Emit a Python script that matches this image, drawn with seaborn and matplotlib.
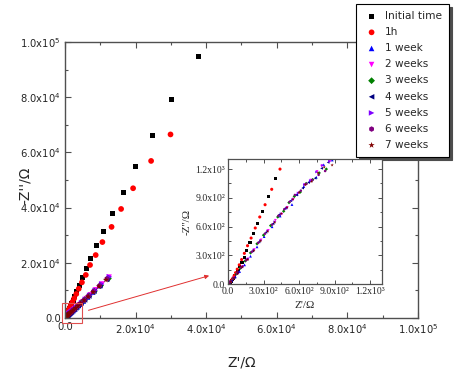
import numpy as np
import pandas as pd
import matplotlib
matplotlib.use("Agg")
import matplotlib.pyplot as plt
import matplotlib.patches as patches
from matplotlib.ticker import MultipleLocator
import seaborn as sns

# series names as in the legend
labels = ["Initial time", "1h", "1 week", "2 weeks", "3 weeks",
          "4 weeks", "5 weeks", "6 weeks", "7 weeks"]

# Z' / -Z'' values (ohm)
x_init = [37700, 30300, 24700, 20100, 16500, 13500, 11000, 9000, 7300, 6100,
          5000, 4100, 3400, 2800, 2300, 1900, 1550, 1250, 1000, 820,
          665, 540, 403, 341, 290, 248, 214, 186, 158, 138,
          118, 100, 84, 70, 58, 47, 37, 28, 20, 13, 7]
y_init = [94600, 79000, 66000, 55000, 45600, 38000, 31500, 26100, 21700, 17800,
          14500, 11800, 9600, 7800, 6300, 5100, 4100, 3300, 2650, 2150,
          1750, 1420, 1102, 916, 758, 628, 523, 435, 347, 277,
          225, 180, 142, 110, 84, 62, 45, 31, 20, 12, 6]

x_1h = [29900, 24400, 19300, 15900, 13200, 10600, 8700, 7100, 5900, 4800,
        3900, 3200, 2600, 2100, 1700, 1400, 1120, 900, 720, 580,
        439, 369, 313, 268, 230, 195, 165, 138, 115, 95,
        78, 64, 52, 42, 33, 25, 18, 12, 6]
y_1h = [66500, 56900, 47000, 39500, 33000, 27500, 22800, 19200, 15600, 12900,
        10600, 8700, 7100, 5800, 4700, 3850, 3100, 2500, 2000, 1600,
        1200, 989, 828, 700, 585, 480, 400, 320, 255, 200,
        155, 118, 88, 64, 45, 30, 18, 10, 4]

x_1w = [12000, 9700, 7900, 6400, 5200, 4250, 3480, 2850, 2330, 1910,
        1570, 1290, 1060, 880, 808, 745, 690, 640, 585, 540,
        492, 440, 372, 305, 245, 190, 140, 98, 62, 33, 12]
y_1w = [14600, 11700, 9400, 7600, 6150, 5000, 4080, 3330, 2750, 2290,
        1920, 1630, 1420, 1295, 1245, 1115, 1078, 1018, 938, 830,
        796, 710, 598, 495, 388, 290, 200, 130, 75, 36, 12]

x_2w = [12500, 10500, 8700, 7200, 6000, 4950, 4100, 3380, 2790, 2300,
        1890, 1560, 1280, 1060, 860, 790, 752, 700, 650, 600,
        552, 500, 455, 400, 340, 280, 222, 170, 125, 86, 52, 26, 8]
y_2w = [14800, 12300, 10200, 8400, 7000, 5780, 4780, 3960, 3300, 2760,
        2330, 1990, 1720, 1490, 1280, 1232, 1175, 1085, 1040, 955,
        886, 800, 730, 665, 560, 460, 360, 262, 182, 115, 62, 26, 6]

x_3w = [12300, 10100, 8300, 6800, 5600, 4600, 3800, 3130, 2590, 2130,
        1760, 1450, 1190, 980, 830, 770, 715, 660, 610, 560,
        515, 470, 420, 360, 300, 245, 190, 145, 105, 72, 44, 22, 6]
y_3w = [14300, 11800, 9700, 8000, 6600, 5450, 4500, 3740, 3110, 2600,
        2190, 1860, 1590, 1380, 1200, 1160, 1090, 1050, 960, 915,
        850, 760, 700, 610, 510, 420, 325, 240, 165, 105, 58, 24, 5]

x_4w = [11800, 9900, 8200, 6750, 5550, 4560, 3750, 3080, 2530, 2080,
        1710, 1410, 1160, 960, 845, 790, 735, 680, 630, 578,
        530, 480, 432, 380, 320, 262, 208, 160, 118, 82, 52, 28, 10]
y_4w = [14000, 11700, 9700, 7950, 6550, 5400, 4450, 3680, 3050, 2540,
        2130, 1810, 1550, 1350, 1270, 1208, 1105, 1060, 1002, 930,
        870, 790, 724, 630, 540, 440, 345, 258, 182, 118, 66, 30, 8]

x_5w = [12600, 10400, 8550, 7000, 5750, 4720, 3880, 3190, 2620, 2160,
        1780, 1470, 1210, 1000, 856, 800, 748, 695, 645, 592,
        545, 498, 448, 395, 335, 275, 218, 166, 122, 84, 50, 25, 7]
y_5w = [14900, 12300, 10000, 8200, 6750, 5550, 4580, 3790, 3150, 2630,
        2210, 1880, 1610, 1400, 1282, 1240, 1170, 1080, 1038, 950,
        880, 795, 735, 650, 555, 455, 355, 260, 180, 112, 60, 25, 6]

x_6w = [11900, 9800, 8050, 6600, 5420, 4450, 3660, 3010, 2480, 2040,
        1680, 1380, 1140, 940, 820, 765, 712, 662, 615, 565,
        520, 475, 425, 372, 312, 255, 200, 152, 110, 76, 46, 23, 7]
y_6w = [14200, 11700, 9600, 7880, 6480, 5330, 4390, 3630, 3000, 2500,
        2100, 1790, 1530, 1330, 1180, 1140, 1085, 1045, 975, 930,
        858, 780, 712, 620, 525, 430, 335, 248, 172, 110, 60, 25, 6]

x_7w = [11600, 9600, 7950, 6550, 5400, 4450, 3670, 3030, 2500, 2060,
        1700, 1400, 1150, 950, 879, 812, 760, 705, 652, 600,
        548, 498, 450, 395, 335, 275, 218, 165, 120, 82, 50, 24, 6]
y_7w = [13800, 11400, 9400, 7750, 6400, 5280, 4360, 3610, 2990, 2490,
        2090, 1770, 1520, 1320, 1242, 1220, 1160, 1070, 1035, 955,
        885, 800, 735, 645, 550, 450, 350, 255, 178, 112, 60, 25, 6]

main_ticks = [0, 20000, 40000, 60000, 80000, 100000]
main_labels = ["0.0", r"2.0x10$^4$", r"4.0x10$^4$", r"6.0x10$^4$", r"8.0x10$^4$", r"1.0x10$^5$"]
inset_ticks = [0, 300, 600, 900, 1200]
inset_labels = ["0.0", "3.0x10²", "6.0x10²", "9.0x10²", "1.2x10³"]

xs = [x_init, x_1h, x_1w, x_2w, x_3w, x_4w, x_5w, x_6w, x_7w]
ys = [y_init, y_1h, y_1w, y_2w, y_3w, y_4w, y_5w, y_6w, y_7w]

colors = ["#000000", "#ff0000", "#0000ff", "#ff00ff", "#008000",
          "#000080", "#8000ff", "#800080", "#800000"]
markers = ["s", "o", "^", "v", "D", "<", ">", "h", "*"]
main_sizes = [13, 17, 16, 16, 12, 16, 16, 16, 22]
inset_sizes = [5, 5, 4, 4, 3, 4, 4, 4, 6]

df = pd.concat([pd.DataFrame({"zr": x, "zi": y, "series": lab})
                for x, y, lab in zip(xs, ys, labels)], ignore_index=True)

sns.set_style("ticks")
plt.rcParams["font.family"] = ["DejaVu Sans"]
spine_c = "#505050"

fig = plt.figure(figsize=(4.56, 3.73), dpi=100)
ax = fig.add_axes([0.1425, 0.1475, 0.774, 0.740])

for lab, c, m, s in zip(labels, colors, markers, main_sizes):
    sub = df[df["series"] == lab]
    sns.scatterplot(data=sub, x="zr", y="zi", color=c, marker=m, s=s,
                    edgecolor="none", linewidth=0, label=lab, ax=ax)

ax.set_xlim(0, 100000)
ax.set_ylim(0, 100000)
ax.set_xticks(main_ticks)
ax.set_xticklabels(main_labels, fontsize=7.2)
ax.set_yticks(main_ticks)
ax.set_yticklabels(main_labels, fontsize=7.2)
ax.xaxis.set_minor_locator(MultipleLocator(10000))
ax.yaxis.set_minor_locator(MultipleLocator(10000))
ax.tick_params(which="both", direction="in", top=True, right=True, color=spine_c, width=0.8)
ax.tick_params(which="major", length=4, pad=3)
ax.tick_params(which="minor", length=2.5)
for sp in ax.spines.values():
    sp.set_visible(True)
    sp.set_color(spine_c)
    sp.set_linewidth(1.0)
ax.set_xlabel("Z'/Ω", fontsize=10)
ax.set_ylabel("-Z''/Ω", fontsize=10)
ax.xaxis.set_label_coords(0.50, -0.135)
ax.yaxis.set_label_coords(-0.095, 0.48)

# zoom box and arrow
ax.add_patch(patches.Rectangle((-850, -1800), 5650, 7200, fill=False,
                               edgecolor="#e05050", linewidth=0.8, clip_on=False, zorder=5))
ax.annotate("", xy=(41600, 15600), xytext=(5900, 2500),
            arrowprops=dict(arrowstyle="-|>", color="#e03030", lw=0.7, mutation_scale=6))

leg = ax.legend(loc="upper right", bbox_to_anchor=(0.985, 0.989), bbox_transform=fig.transFigure,
                borderaxespad=0, fontsize=7.6, frameon=True, fancybox=False, labelspacing=0.58,
                handletextpad=0.5, handlelength=1.6, borderpad=0.65, markerscale=1.0,
                shadow={"ox": 2, "oy": -2, "color": "0.3", "alpha": 1})
leg.get_frame().set_edgecolor("black")
leg.get_frame().set_linewidth(0.8)

# inset
axi = fig.add_axes([0.5, 0.2386, 0.3377, 0.335])
for lab, c, m, s in zip(labels, colors, markers, inset_sizes):
    sub = df[df["series"] == lab]
    sns.scatterplot(data=sub, x="zr", y="zi", color=c, marker=m, s=s,
                    edgecolor="none", linewidth=0, legend=False, ax=axi)
axi.set_xlim(0, 1300)
axi.set_ylim(0, 1305)
serif = ["Liberation Serif", "DejaVu Serif"]
axi.set_xticks(inset_ticks)
axi.set_xticklabels(inset_labels, fontsize=7, family=serif)
axi.set_yticks(inset_ticks)
axi.set_yticklabels(inset_labels, fontsize=7, family=serif)
axi.xaxis.set_minor_locator(MultipleLocator(150))
axi.yaxis.set_minor_locator(MultipleLocator(150))
axi.tick_params(which="both", direction="in", top=True, right=True, color=spine_c, width=0.7)
axi.tick_params(which="major", length=3, pad=2)
axi.tick_params(which="minor", length=1.8)
for sp in axi.spines.values():
    sp.set_visible(True)
    sp.set_color(spine_c)
    sp.set_linewidth(0.9)
axi.set_xlabel("Z'/Ω", fontsize=8, family=serif, labelpad=4)
axi.set_ylabel("-Z''/Ω", fontsize=8, family=serif, labelpad=3)

fig.savefig("out.png", dpi=100)
